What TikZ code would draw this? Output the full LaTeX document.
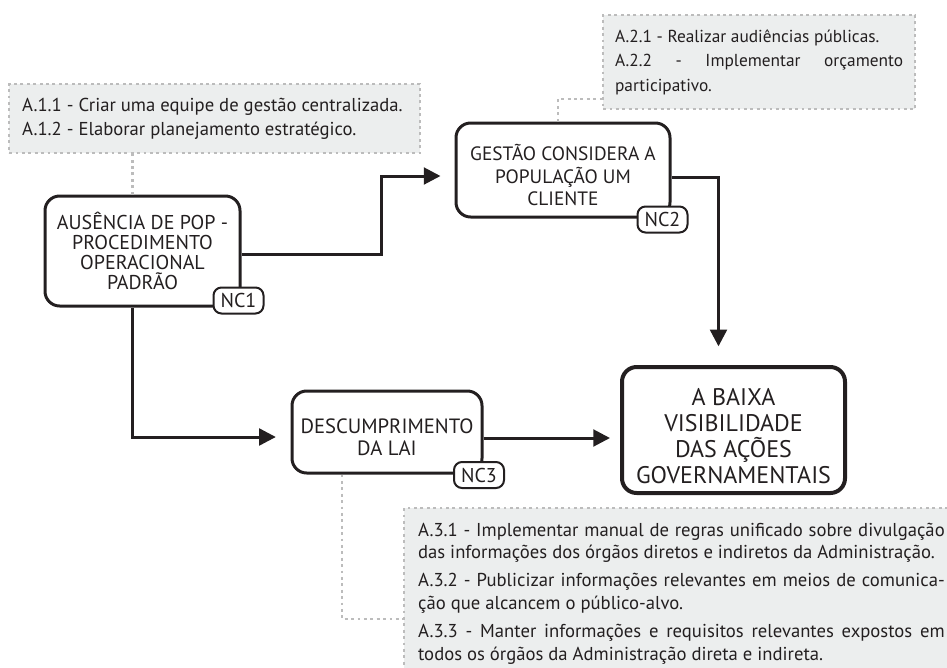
\documentclass[tikz,border=0pt]{standalone}
\usepackage{fontspec}
\setmainfont{PT Sans}
\usetikzlibrary{arrows.meta,calc}
\definecolor{notafundo}{HTML}{ECEEEE}
\definecolor{notaborda}{HTML}{BCBCBC}
\definecolor{traco}{HTML}{231F20}
\setlength{\parindent}{0pt}
\hyphenpenalty=10000
\exhyphenpenalty=10000
\newcommand\baixar[1]{\rule{0pt}{#1}}

\begin{document}
\begin{tikzpicture}[x=0.75pt,y=-0.75pt,
    causa/.style={draw=traco,text=traco,line width=2.25pt,rounded corners=11pt,align=center,inner sep=0pt},
    selo/.style={draw=traco,text=traco,fill=white,line width=1.5pt,rounded corners=6pt,minimum width=37.5pt,minimum height=19.5pt,inner sep=0pt,font=\fontsize{15}{17}\selectfont},
    nota/.style={draw=notaborda,fill=notafundo,text=traco,line width=1.65pt,dash pattern=on 2.2pt off 2.6pt,align=justify,anchor=north west,font=\fontsize{14}{18}\selectfont},
    fluxo/.style={draw=traco,line width=2.25pt,-{Triangle[length=12.5pt,width=12.5pt]}},
    ligacao/.style={draw=notaborda,line width=1.65pt,dash pattern=on 2.2pt off 2.6pt}]
  \useasboundingbox (0,0) rectangle (947,668);
  \node[causa,minimum width=146.25pt,minimum height=82.5pt,font=\fontsize{15}{15}\selectfont] (ausencia) at (142.5,251) {AUSÊNCIA DE POP -\\PROCEDIMENTO\\OPERACIONAL\\PADRÃO};
  \node[causa,minimum width=160.5pt,minimum height=70.5pt,font=\fontsize{14.5}{17}\selectfont] (gestao) at (563,170) {\baixar{20pt}GESTÃO CONSIDERA A\\POPULAÇÃO UM\\CLIENTE};
  \node[causa,minimum width=142.5pt,minimum height=61.5pt,font=\fontsize{15.5}{16.5}\selectfont] (descumprimento) at (387,432) {\baixar{19pt}DESCUMPRIMENTO\\DA LAI};
  \node[causa,line width=3pt,minimum width=167.25pt,minimum height=94.5pt,font=\fontsize{18}{19.5}\selectfont] (baixa) at (733.5,430) {\baixar{21.5pt}A BAIXA\\VISIBILIDADE\\DAS AÇÕES\\GOVERNAMENTAIS};
  \node[selo] (nc1) at ($(ausencia.south east)+(-3,-7)$) {NC1};
  \node[selo] (nc2) at ($(gestao.south east)+(-9,1)$) {NC2};
  \node[selo] (nc3) at ($(descumprimento.south east)+(-4.5,0.5)$) {NC3};
  \node[nota,text width=288.75pt,inner xsep=9.75pt,minimum height=51.75pt] (acao1) at (8,83) {A.1.1 - Criar uma equipe de gestão centralizada.\par A.1.2 - Elaborar planejamento estratégico.};
  \node[nota,text width=216pt,inner xsep=9pt,minimum height=70.5pt,font=\fontsize{13}{18.5}\selectfont] (acao2) at (602,14) {A.2.1 - Realizar audiências públicas.\par A.2.2 - Implementar orçamento\linebreak participativo.};
  \node[nota,text width=395pt,inner xsep=10.5pt,inner ysep=11pt,font=\fontsize{14}{17}\selectfont] (acao3) at (403,507) {A.3.1 - Implementar manual de regras unificado sobre divulgação\linebreak das informações dos órgãos diretos e indiretos da Administração.\par\vspace{4pt}A.3.2 - Publicizar informações relevantes em meios de comunica-\linebreak ção que alcancem o público-alvo.\par\vspace{4pt}A.3.3 - Manter informações e requisitos relevantes expostos em\linebreak todos os órgãos da Administração direta e indireta.};
  \draw[fluxo,shorten >=10.5pt] ($(ausencia.east)+(0,3)$) -- ++(140,0) |- ($(gestao.west)+(0,6)$);
  \draw[fluxo,shorten >=14pt] ($(gestao.east)+(0,7)$) -| ($(baixa.north)+(-15,0)$);
  \draw[fluxo,shorten >=11pt] ($(ausencia.south)+(-10,0)$) |- ($(descumprimento.west)+(0,5)$);
  \draw[fluxo,shorten >=7.5pt] ($(descumprimento.east)+(0,6)$) coordinate (saida) -- (saida -| baixa.west);
  \draw[ligacao] ($(ausencia.north)+(-10,0)$) coordinate (topo) -- (topo |- acao1.south);
  \draw[ligacao] ($(gestao.north)+(-5,0)$) |- ($(acao2.west)+(0,37)$);
  \draw[ligacao] ($(descumprimento.south)+(-45,0)$) |- ($(acao3.north west)+(0,112)$);
\end{tikzpicture}
\end{document}
